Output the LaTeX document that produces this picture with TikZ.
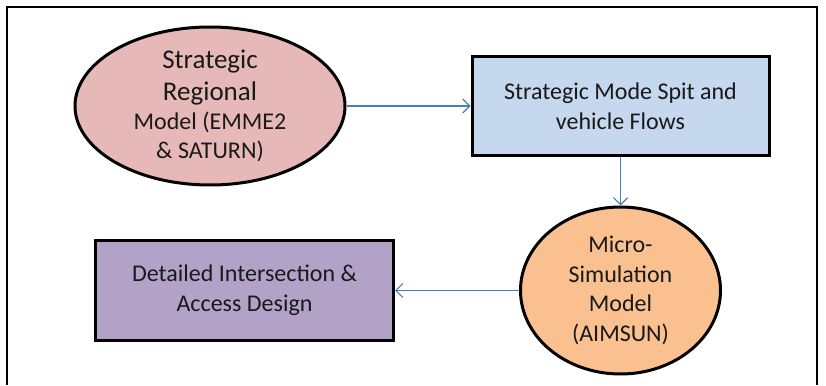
\documentclass[tikz,border=0pt]{standalone}
\usepackage{fontspec}
\setmainfont{Carlito}
\usepackage{xcolor}
\usetikzlibrary{positioning,shapes.geometric,arrows.meta}

\definecolor{regionalfill}{HTML}{E6B9B8}
\definecolor{flowsfill}{HTML}{C6D8EE}
\definecolor{microfill}{HTML}{FAC090}
\definecolor{designfill}{HTML}{B3A2C7}
\definecolor{linkblue}{HTML}{4A7EBB}

\begin{document}
\begin{tikzpicture}[x=1pt, y=1pt,
    oval/.style={ellipse, draw=black, line width=3pt, align=center, text=black!90, inner sep=0pt,
                 font=\fontsize{24}{29.5}\selectfont},
    box/.style={rectangle, draw=black, line width=3pt, align=center, text=black!90, inner sep=0pt,
                font=\fontsize{24}{30}\selectfont},
    link/.style={draw=linkblue, line width=1.2pt, -{Straight Barb[length=7pt,width=14pt]}}]
        \useasboundingbox (0,0) rectangle (826,-385); % Page size
        \draw[line width=2pt] (7,-385) -- (7,-7) -- (817,-7) -- (817,-385); % Frame

        % Define nodes for the four steps
        \node[oval, fill=regionalfill, minimum width=270, minimum height=158] (regional) at (210,-106)
            {{\fontsize{27}{29.5}\selectfont Strategic}\\[2pt] {\fontsize{27}{29.5}\selectfont Regional}\\
             Model (EMME2\\[-1pt] \& SATURN)}; % Regional model
        \node[box, fill=flowsfill, minimum width=297, minimum height=98, right=124 of regional.east, anchor=west] (flows)
            {Strategic Mode Spit and\\ vehicle Flows}; % Mode split
        \node[oval, fill=microfill, minimum width=200, minimum height=167, below=49 of flows.south, anchor=north] (micro)
            {Micro-\\ Simulation\\ Model\\ (AIMSUN)}; % Micro-simulation
        \node[box, fill=designfill, minimum width=298, minimum height=100, left=124 of micro.west, anchor=east] (design)
            {Detailed Intersection \&\\ Access Design}; % Design

        % Draw the arrows between steps
        \draw[link] (regional.east) -- (flows); % From regional to flows
        \draw[link] (flows) -- (micro); % From flows to micro
        \draw[link] (micro) -- (design); % From micro to design
    \end{tikzpicture}
\end{document}
